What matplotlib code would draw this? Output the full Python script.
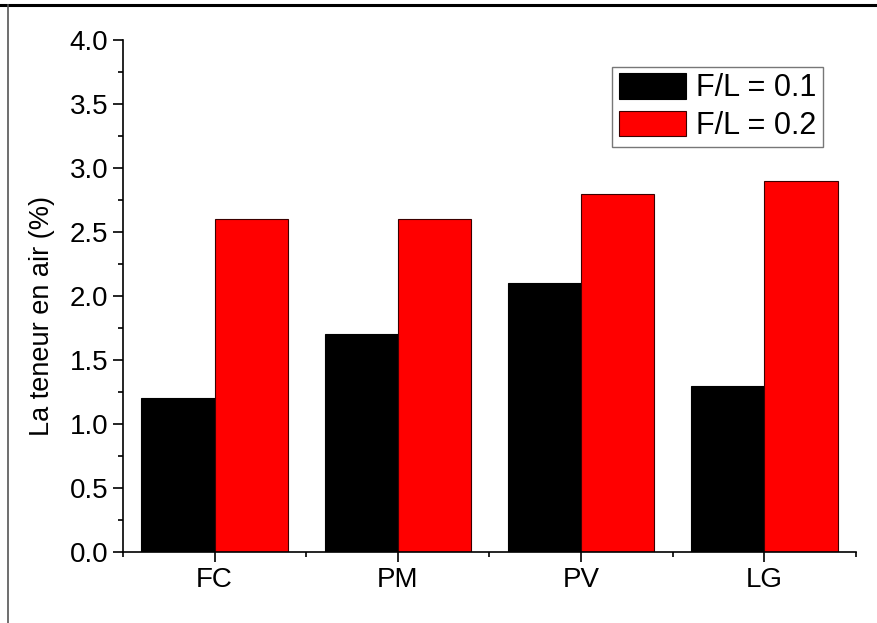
import numpy as np
import matplotlib
matplotlib.use('Agg')
import matplotlib.pyplot as plt
from matplotlib.lines import Line2D

plt.rcParams['font.family'] = ['Liberation Sans', 'DejaVu Sans']

# data
categories = ['FC', 'PM', 'PV', 'LG']
fl_01 = [1.2, 1.7, 2.1, 1.3]
fl_02 = [2.6, 2.6, 2.8, 2.9]
series_labels = ['F/L = 0.1', 'F/L = 0.2']

x = np.arange(1, len(categories) + 1)
w = 0.4

fig = plt.figure(figsize=(8.77, 6.23), dpi=100)
ax = fig.add_axes([0.1403, 0.114, 0.8357, 0.8218])

ax.bar(x - w / 2, fl_01, w, color='black', edgecolor='black', linewidth=0.8, label=series_labels[0])
ax.bar(x + w / 2, fl_02, w, color='#ff0000', edgecolor='#3a0000', linewidth=0.8, label=series_labels[1])

ax.set_xlim(0.5, 4.5)
ax.set_ylim(0, 4.0)
ax.set_xticks(x)
ax.set_xticklabels(categories)
ax.set_xticks([0.5, 1.5, 2.5, 3.5, 4.5], minor=True)
ax.set_yticks(np.arange(0, 4.01, 0.5))
ax.set_yticklabels(['%.1f' % v for v in np.arange(0, 4.01, 0.5)])
ax.set_yticks(np.arange(0.25, 4.0, 0.5), minor=True)

for s in ['top', 'right']:
    ax.spines[s].set_visible(False)
for s in ['left', 'bottom']:
    ax.spines[s].set_linewidth(1.2)

ax.tick_params(which='major', direction='out', length=7, width=1.2, labelsize=20, pad=3.5)
ax.tick_params(which='minor', direction='out', length=3.5, width=1.2)
ax.set_ylabel('La teneur en air (%)', fontsize=19.5)
ax.yaxis.set_label_coords(-0.093, 0.46)

leg = ax.legend(loc='upper right', bbox_to_anchor=(0.955, 0.947), borderaxespad=0,
                fontsize=22, fancybox=False, frameon=True, handlelength=2.2,
                handleheight=0.9, labelspacing=0.25, handletextpad=0.35, borderpad=0.2)
leg.get_frame().set_edgecolor('#555555')
leg.get_frame().set_linewidth(1.0)

# outer frame pieces seen at the top and left of the picture
fig.add_artist(Line2D([0, 1], [1 - 5 / 623, 1 - 5 / 623], color='black', linewidth=2.2,
                      transform=fig.transFigure))
fig.add_artist(Line2D([8 / 877, 8 / 877], [0, 1 - 5 / 623], color='#555555', linewidth=1.2,
                      transform=fig.transFigure))

fig.savefig('out.png', dpi=100)
